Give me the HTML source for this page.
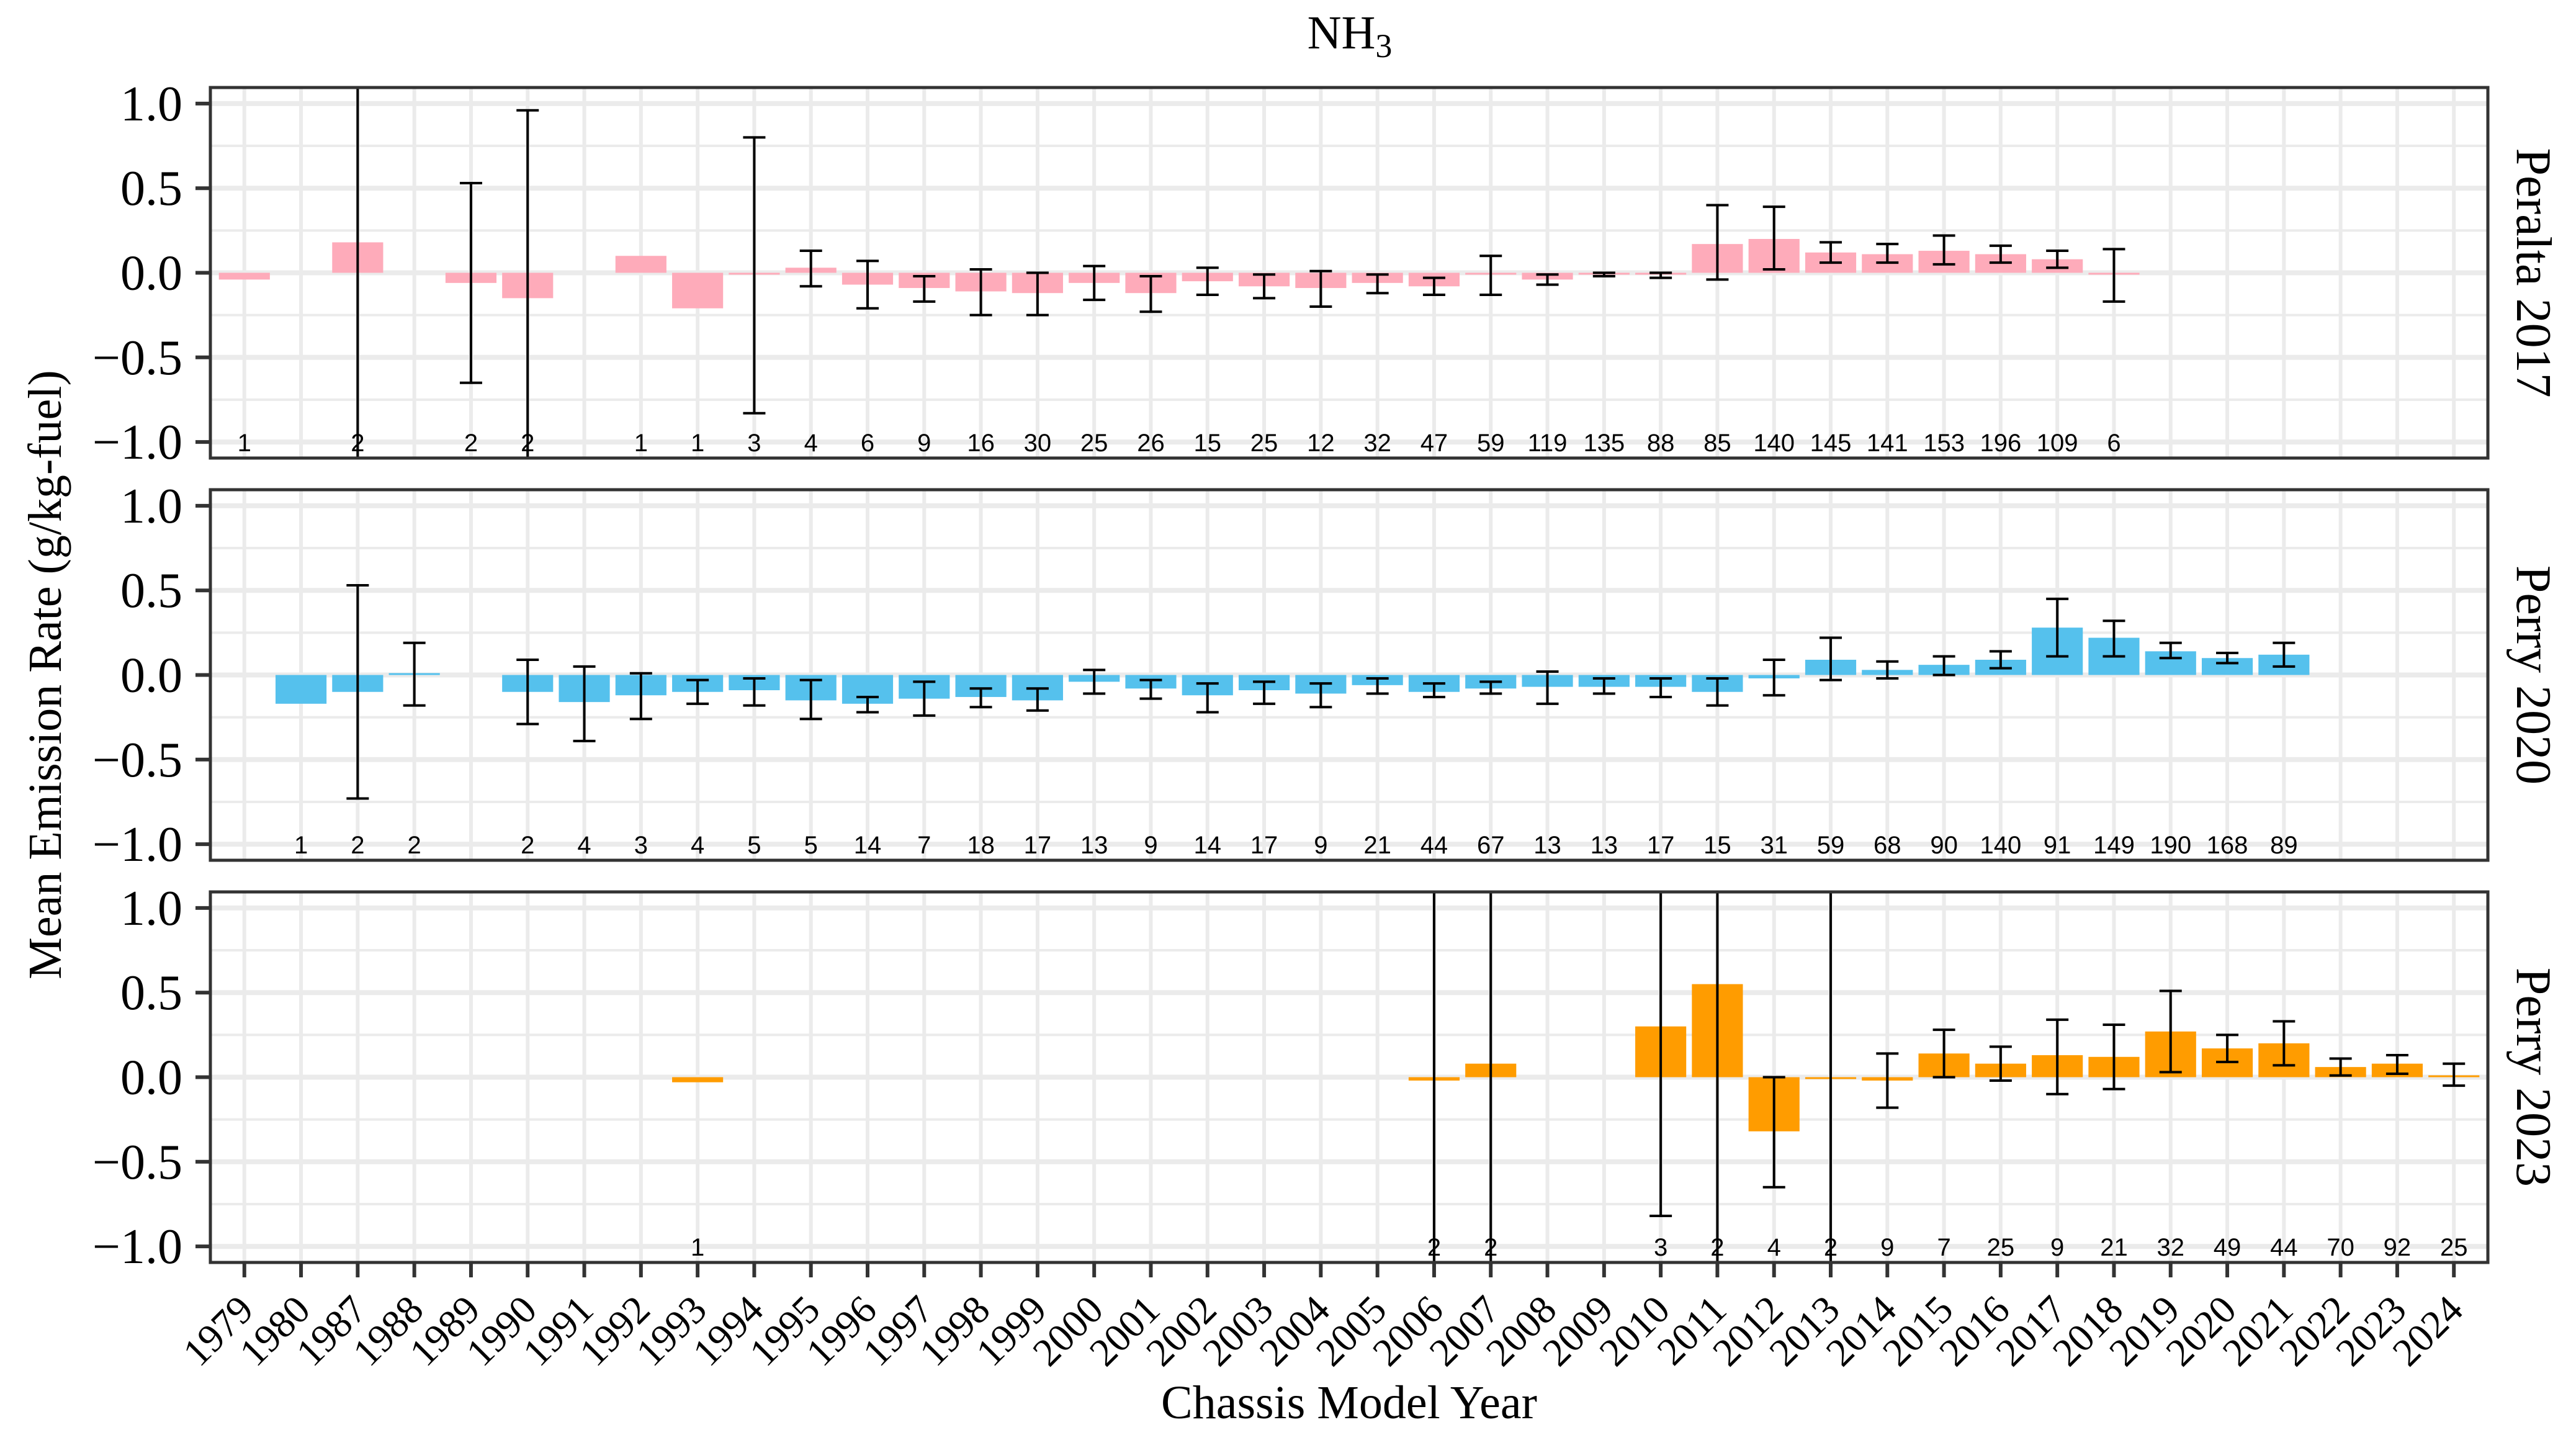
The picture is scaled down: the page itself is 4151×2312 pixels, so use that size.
<!DOCTYPE html>
<html><head><meta charset="utf-8"><style>
html,body{margin:0;padding:0;background:#fff;}
svg{display:block;}
</style></head><body>
<svg id="chart" width="4151" height="2312" viewBox="0 0 4151 2312" xmlns="http://www.w3.org/2000/svg">
<rect width="4151" height="2312" fill="#fff"/>
<text x="2175" y="78" font-family="Liberation Serif, serif" font-size="76" text-anchor="middle">NH<tspan font-size="54" dy="14">3</tspan></text>
<text transform="translate(98,1087) rotate(-90)" font-family="Liberation Serif, serif" font-size="76" text-anchor="middle">Mean Emission Rate (g/kg-fuel)</text>
<text x="2174" y="2285" font-family="Liberation Serif, serif" font-size="76" text-anchor="middle">Chassis Model Year</text>
<g id="plots"></g>
</svg>
<script>
const categories = ["1979","1980","1987","1988","1989","1990","1991","1992","1993","1994","1995","1996","1997","1998","1999","2000","2001","2002","2003","2004","2005","2006","2007","2008","2009","2010","2011","2012","2013","2014","2015","2016","2017","2018","2019","2020","2021","2022","2023","2024"];
const panelNames = ["Peralta 2017","Perry 2020","Perry 2023"];
const panelColors = ["#FEABBA","#55C1ED","#FF9C00"];
const yTicks = [-1.0,-0.5,0.0,0.5,1.0];
const yTickLabels = ["\u22121.0","\u22120.5","0.0","0.5","1.0"];
const yMinor = [-0.75,-0.25,0.25,0.75];
const N = null;
// Peralta 2017
const meanP1 = [-0.04,N,0.18,N,-0.06,-0.15,N,0.10,-0.21,-0.01,0.03,-0.07,-0.09,-0.11,-0.12,-0.06,-0.12,-0.05,-0.08,-0.09,-0.06,-0.08,-0.01,-0.04,-0.01,-0.01,0.17,0.20,0.12,0.11,0.13,0.11,0.08,-0.01,N,N,N,N,N,N];
const loP1 = [N,N,-1.6,N,-0.65,-1.6,N,N,N,-0.83,-0.08,-0.21,-0.17,-0.25,-0.25,-0.16,-0.23,-0.13,-0.15,-0.20,-0.12,-0.13,-0.13,-0.07,-0.02,-0.03,-0.04,0.02,0.06,0.06,0.05,0.06,0.03,-0.17,N,N,N,N,N,N];
const hiP1 = [N,N,1.6,N,0.53,0.96,N,N,N,0.80,0.13,0.07,-0.02,0.02,0.00,0.04,-0.02,0.03,-0.01,0.01,-0.01,-0.03,0.10,-0.01,0.00,0.00,0.40,0.39,0.18,0.17,0.22,0.16,0.13,0.14,N,N,N,N,N,N];
const countP1 = [1,N,2,N,2,2,N,1,1,3,4,6,9,16,30,25,26,15,25,12,32,47,59,119,135,88,85,140,145,141,153,196,109,6,N,N,N,N,N,N];
// Perry 2020
const meanP2 = [N,-0.17,-0.10,0.005,N,-0.10,-0.16,-0.12,-0.10,-0.09,-0.15,-0.17,-0.14,-0.13,-0.15,-0.04,-0.08,-0.12,-0.09,-0.11,-0.06,-0.10,-0.08,-0.07,-0.07,-0.07,-0.10,-0.02,0.09,0.03,0.06,0.09,0.28,0.22,0.14,0.10,0.12,N,N,N];
const loP2 = [N,N,-0.73,-0.18,N,-0.29,-0.39,-0.26,-0.17,-0.18,-0.26,-0.22,-0.24,-0.19,-0.21,-0.11,-0.14,-0.22,-0.17,-0.19,-0.11,-0.13,-0.11,-0.17,-0.11,-0.13,-0.18,-0.12,-0.03,-0.02,0.00,0.04,0.11,0.11,0.10,0.07,0.05,N,N,N];
const hiP2 = [N,N,0.53,0.19,N,0.09,0.05,0.01,-0.03,-0.02,-0.03,-0.13,-0.04,-0.08,-0.08,0.03,-0.03,-0.05,-0.04,-0.05,-0.02,-0.05,-0.04,0.02,-0.02,-0.02,-0.02,0.09,0.22,0.08,0.11,0.14,0.45,0.32,0.19,0.13,0.19,N,N,N];
const countP2 = [N,1,2,2,N,2,4,3,4,5,5,14,7,18,17,13,9,14,17,9,21,44,67,13,13,17,15,31,59,68,90,140,91,149,190,168,89,N,N,N];
// Perry 2023
const meanP3 = [N,N,N,N,N,N,N,N,-0.03,N,N,N,N,N,N,N,N,N,N,N,N,-0.02,0.08,N,N,0.30,0.55,-0.32,-0.005,-0.02,0.14,0.08,0.13,0.12,0.27,0.17,0.20,0.06,0.08,0.005];
const loP3 = [N,N,N,N,N,N,N,N,N,N,N,N,N,N,N,N,N,N,N,N,N,-1.6,-1.6,N,N,-0.82,-1.6,-0.65,-1.6,-0.18,0.00,-0.02,-0.10,-0.07,0.03,0.09,0.07,0.01,0.02,-0.05];
const hiP3 = [N,N,N,N,N,N,N,N,N,N,N,N,N,N,N,N,N,N,N,N,N,1.6,1.6,N,N,1.6,1.6,0.00,1.6,0.14,0.28,0.18,0.34,0.31,0.51,0.25,0.33,0.11,0.13,0.08];
const countP3 = [N,N,N,N,N,N,N,N,1,N,N,N,N,N,N,N,N,N,N,N,N,2,2,N,N,3,2,4,2,9,7,25,9,21,32,49,44,70,92,25];

const means = [meanP1, meanP2, meanP3];
const los = [loP1, loP2, loP3];
const his = [hiP1, hiP2, hiP3];
const counts = [countP1, countP2, countP3];

const NS = "http://www.w3.org/2000/svg";
const plotL = 339, plotR = 4009, panelH = 597, panelTops = [141, 789, 1437];
const yMin = -1.095, yMax = 1.095;
const step = (plotR - plotL) / (categories.length + 0.2);
function xScale(i){ return plotL + (i + 0.6) * step; }
function yScale(v, top){ return top + (yMax - v) / (yMax - yMin) * panelH; }
function mk(tag, attrs, parent){
  const e = document.createElementNS(NS, tag);
  for (const k in attrs) e.setAttribute(k, attrs[k]);
  parent.appendChild(e);
  return e;
}
const root = document.getElementById('plots');
const defs = mk('defs', {}, root);

panelNames.forEach((pname, p) => {
  const top = panelTops[p];
  const g = mk('g', {}, root);
  
  
  const cp = mk('clipPath', {id: 'clip' + p}, defs);
  mk('rect', {x: plotL, y: top, width: plotR - plotL, height: panelH}, cp);
  const grid = mk('g', {'clip-path': 'url(#clip' + p + ')'}, g);
  
  
  yMinor.forEach(v => {
    const l = mk('line', {x1: plotL, x2: plotR, y1: yScale(v, top), y2: yScale(v, top), stroke: '#EBEBEB', 'stroke-width': 4}, grid);
    
    
  });
  yTicks.forEach(v => {
    const l = mk('line', {x1: plotL, x2: plotR, y1: yScale(v, top), y2: yScale(v, top), stroke: '#EBEBEB', 'stroke-width': 8}, grid);
    
    
  });
  categories.forEach((c, i) => {
    const l = mk('line', {x1: xScale(i), x2: xScale(i), y1: top, y2: top + panelH, stroke: '#EBEBEB', 'stroke-width': 6}, grid);
    
    
  });
  const marks = mk('g', {'clip-path': 'url(#clip' + p + ')'}, g);
  const y0 = yScale(0, top);
  const bw = step * 0.9;
  means[p].forEach((v, i) => {
    if (v === null) return;
    const yv = yScale(v, top);
    const h = Math.max(Math.abs(yv - y0), 3);
    const r = mk('rect', {x: xScale(i) - bw / 2, y: v >= 0 ? y0 - h : y0, width: bw, height: h, fill: panelColors[p]}, marks);
    
    
  });
  los[p].forEach((lo, i) => {
    const hi = his[p][i];
    if (lo === null || hi === null) return;
    const x = xScale(i), yl = yScale(lo, top), yh = yScale(hi, top);
    const eg = mk('g', {stroke: '#000', 'stroke-width': 4}, marks);
    
    
    mk('line', {x1: x, x2: x, y1: yl, y2: yh}, eg);
    mk('line', {x1: x - 18, x2: x + 18, y1: yl, y2: yl}, eg);
    mk('line', {x1: x - 18, x2: x + 18, y1: yh, y2: yh}, eg);
  });
  counts[p].forEach((n, i) => {
    if (n === null) return;
    const t = mk('text', {x: xScale(i), y: yScale(-1, top) + 15, 'font-family': 'Liberation Sans, sans-serif', 'font-size': 40, 'text-anchor': 'middle', fill: '#000'}, g);
    t.textContent = n;
    
    
  });
  const border = mk('rect', {x: plotL, y: top, width: plotR - plotL, height: panelH, fill: 'none', stroke: '#333', 'stroke-width': 5}, g);
  
  
  yTicks.forEach((v, k) => {
    const y = yScale(v, top);
    const tk = mk('line', {x1: plotL - 24, x2: plotL, y1: y, y2: y, stroke: '#333', 'stroke-width': 6}, g);
    
    
    const t = mk('text', {x: 294, y: y + 27, 'font-family': 'Liberation Serif, serif', 'font-size': 80, 'text-anchor': 'end', fill: '#000'}, g);
    t.textContent = yTickLabels[k];
    
    
  });
  const st = mk('text', {transform: 'translate(4056,' + (top + panelH / 2) + ') rotate(90)', 'font-family': 'Liberation Serif, serif', 'font-size': 80, 'text-anchor': 'middle', fill: '#000'}, g);
  st.textContent = pname;
  
  
});

const bottom = panelTops[2] + panelH;
const xg = mk('g', {}, root);


categories.forEach((c, i) => {
  const x = xScale(i);
  const tk = mk('line', {x1: x, x2: x, y1: bottom, y2: bottom + 24, stroke: '#333', 'stroke-width': 6}, xg);
  
  
  const t = mk('text', {transform: 'translate(' + (x + 18) + ',' + (bottom + 80) + ') rotate(-45)', 'font-family': 'Liberation Serif, serif', 'font-size': 64, 'text-anchor': 'end', fill: '#000'}, xg);
  t.textContent = c;
  
  
});
</script>
</body></html>
